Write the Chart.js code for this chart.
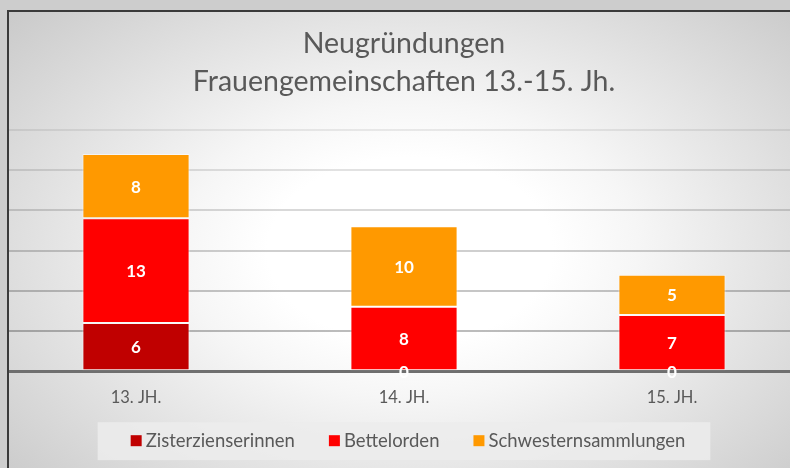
<!DOCTYPE html>
<html>
<head>
<meta charset="utf-8">
<script src="https://cdn.jsdelivr.net/npm/chart.js@4"></script>
<style>
  html,body{margin:0;padding:0;width:790px;height:468px;overflow:hidden;
    background:radial-gradient(ellipse 570px 370px at 410px 250px,#ffffff 25%,#f6f6f6 40%,#c6c6c6 100%);}
  #c{position:absolute;left:0;top:0;}
</style>
</head>
<body>
<canvas id="c" width="808" height="468"></canvas>
<script>
const categories = ['13. JH.', '14. JH.', '15. JH.'];
const zisterzienserinnen = [6, 0, 0];
const bettelorden = [13, 8, 7];
const schwesternsammlungen = [8, 10, 5];
const titleLines = ['Neugründungen', 'Frauengemeinschaften 13.-15. Jh.'];

const FONT = 'Lato';

// white numbers in the middle of each segment (0 too, like the original)
const valueLabels = {
  id: 'valueLabels',
  afterDatasetsDraw(chart){
    const {ctx} = chart;
    ctx.save();
    ctx.font = `bold 17px ${FONT}`;
    ctx.fillStyle = '#fff';
    ctx.textAlign = 'center';
    ctx.textBaseline = 'middle';
    chart.data.datasets.forEach((ds, i) => {
      chart.getDatasetMeta(i).data.forEach((bar, j) => {
        const {x, y, base} = bar.getProps(['x', 'y', 'base'], true);
        ctx.fillText(String(ds.data[j]), x, (y + base) / 2 + 1);
      });
    });
    ctx.restore();
  }
};

// legend in a light panel below the axis labels
const panelLegend = {
  id: 'panelLegend',
  afterDraw(chart){
    const {ctx} = chart;
    const ds = chart.data.datasets;
    ctx.save();
    ctx.font = `18.5px ${FONT}`;
    const widths = ds.map(d => ctx.measureText(d.label).width);
    const sq = 11, gap = 4, space = 34;
    const total = widths.reduce((a, w) => a + sq + gap + w, 0) + space * (ds.length - 1);
    const cx = (chart.chartArea.left + chart.chartArea.right) / 2 + 4;
    const cy = chart.chartArea.bottom + 69;
    let x = cx - total / 2;
    ctx.fillStyle = 'rgba(236,236,236,0.85)';
    ctx.fillRect(x - 33, cy - 18, total + 58, 38);
    ctx.textBaseline = 'middle';
    ds.forEach((d, i) => {
      ctx.fillStyle = d.backgroundColor;
      ctx.fillRect(x, cy - 5, sq, sq);
      ctx.fillStyle = '#595959';
      ctx.fillText(d.label, x + sq + gap, cy + 1);
      x += sq + gap + widths[i] + space;
    });
    ctx.restore();
  }
};

// outer frame: only its left and top edges are inside the picture
const frame = {
  id: 'frame',
  afterDraw(chart){
    const {ctx, width, height} = chart;
    ctx.save();
    ctx.fillStyle = '#cdcdcd';
    ctx.fillRect(0, 0, 7, height);
    ctx.fillRect(0, 0, width, 10);
    ctx.fillStyle = '#3a3a3a';
    ctx.fillRect(7, 10, 2, height - 10);
    ctx.fillRect(7, 10, width - 7, 2);
    ctx.restore();
  }
};

new Chart(document.getElementById('c'), {
  type: 'bar',
  data: {
    labels: categories,
    datasets: [
      { label: 'Zisterzienserinnen', data: zisterzienserinnen, backgroundColor: '#C00000' },
      { label: 'Bettelorden', data: bettelorden, backgroundColor: '#FF0000' },
      { label: 'Schwesternsammlungen', data: schwesternsammlungen, backgroundColor: '#FF9900' }
    ]
  },
  options: {
    responsive: false,
    animation: false,
    layout: { padding: { top: 6, bottom: 43, left: 2, right: 2 } },
    datasets: { bar: { categoryPercentage: 1, barPercentage: 0.4, borderWidth: 1, borderColor: 'rgba(255,255,255,0.55)', borderSkipped: false } },
    plugins: {
      title: { display: true, text: titleLines, color: '#595959', font: { family: FONT, size: 28.5, weight: 'normal', lineHeight: 1.33 }, padding: { top: 19, bottom: 29 } },
      legend: { display: false },
      tooltip: { enabled: false }
    },
    scales: {
      x: {
        stacked: true,
        grid: { display: false, drawTicks: false },
        border: { color: '#6f6f6f', width: 3 },
        ticks: { color: '#595959', font: { family: FONT, size: 16.5 }, padding: 17 }
      },
      y: {
        stacked: true,
        min: 0, max: 30,
        ticks: { display: false, stepSize: 5 },
        border: { display: false },
        grid: { drawTicks: false, color: c => `rgba(0,0,0,${(0.3 - c.tick.value * 0.0075).toFixed(3)})`, lineWidth: 2 }
      }
    }
  },
  plugins: [valueLabels, panelLegend, frame]
});
</script>
</body>
</html>
